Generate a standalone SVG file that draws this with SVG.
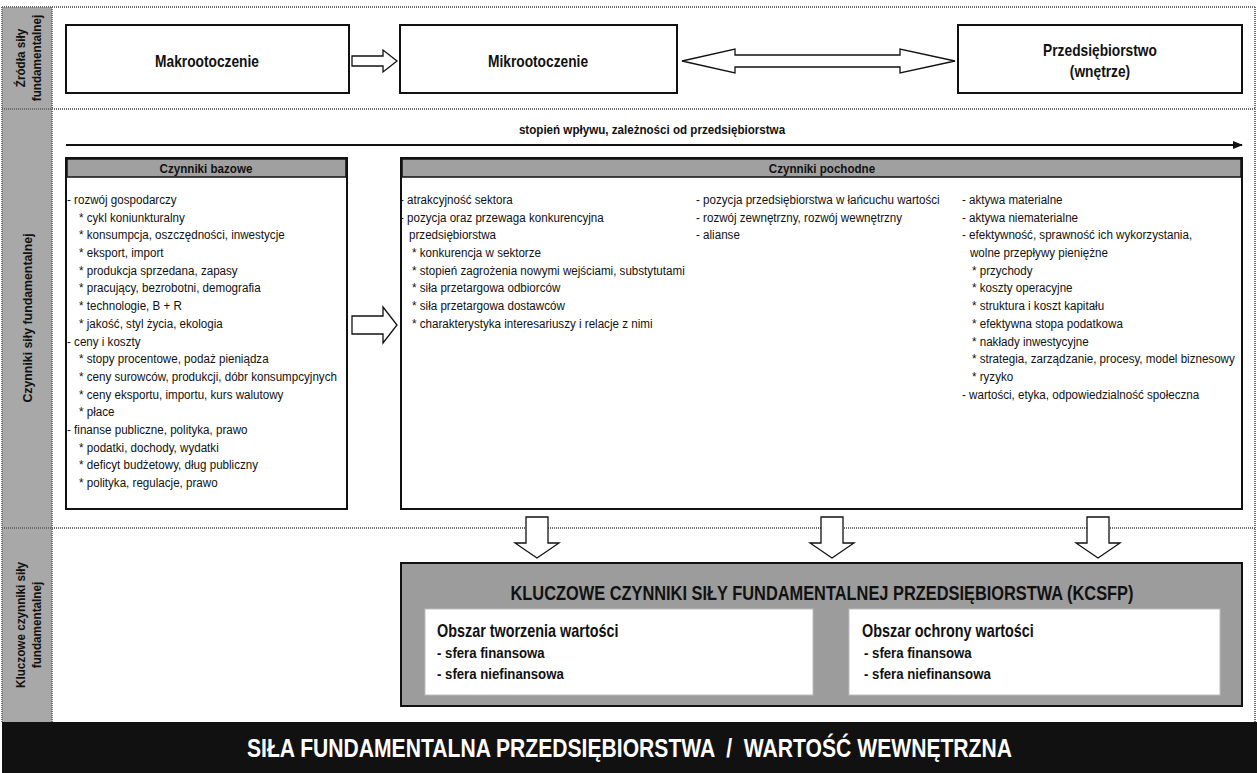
<svg xmlns="http://www.w3.org/2000/svg" width="1257" height="773" viewBox="0 0 1257 773">
<style>
.n{font-family:"Liberation Sans",Arial,sans-serif;}
.lst{font-size:13.5px;fill:#111;}
.hd{font-size:13.5px;font-weight:bold;fill:#111;}
.box{fill:#fff;stroke:#111;stroke-width:2;}
.bt{font-size:16px;font-weight:bold;fill:#111;}
.side{font-size:13px;font-weight:bold;fill:#111;}
.dot{stroke:#6e6e6e;stroke-width:2;stroke-dasharray:1 1;fill:none;}
.harrow{fill:#fff;stroke:#111;stroke-width:1.3;}
.kt{font-size:15px;font-weight:bold;fill:#111;}
.ko{font-size:18px;font-weight:bold;fill:#111;}
</style>
<defs>
<marker id="ah" markerWidth="10" markerHeight="8" refX="9" refY="4" orient="auto" markerUnits="userSpaceOnUse">
<path d="M0,0 L10,4 L0,8 Z" fill="#111"/>
</marker>
</defs>
<rect x="0" y="0" width="1257" height="773" fill="#fff"/>

<g id="sidebar">
<rect x="2" y="7" width="50" height="715" fill="#a8a8a8"/>
<line class="dot" x1="2" y1="7" x2="2" y2="722"/>
<line class="dot" x1="52" y1="7" x2="52" y2="722"/>
<line class="dot" x1="1255" y1="7" x2="1255" y2="722"/>
<line class="dot" x1="2" y1="7" x2="1255" y2="7"/>
<line class="dot" x1="2" y1="109" x2="1255" y2="109"/>
<line class="dot" x1="2" y1="528" x2="1255" y2="528"/>
<text class="n side" text-anchor="middle" transform="translate(25,58) rotate(-90) scale(0.9,1)">Źródła siły</text>
<text class="n side" text-anchor="middle" transform="translate(41,58) rotate(-90) scale(0.9,1)">fundamentalnej</text>
<text class="n side" text-anchor="middle" transform="translate(32,318) rotate(-90) scale(0.95,1)">Czynniki siły fundamentalnej</text>
<text class="n side" text-anchor="middle" transform="translate(25,625) rotate(-90) scale(0.9,1)">Kluczowe czynniki siły</text>
<text class="n side" text-anchor="middle" transform="translate(41,625) rotate(-90) scale(0.9,1)">fundamentalnej</text>
</g>

<g id="makro">
<rect class="box" x="66" y="25" width="283" height="68"/>
<text class="n bt" text-anchor="middle" transform="translate(207,67) scale(0.86,1)">Makrootoczenie</text>
</g>
<g id="mikro">
<rect class="box" x="400" y="25" width="277" height="68"/>
<text class="n bt" text-anchor="middle" transform="translate(538,67) scale(0.86,1)">Mikrootoczenie</text>
</g>
<g id="przedsiebiorstwo">
<rect class="box" x="958" y="25" width="284" height="68"/>
<text class="n bt" text-anchor="middle" transform="translate(1100,56) scale(0.86,1)">Przedsiębiorstwo</text>
<text class="n bt" text-anchor="middle" transform="translate(1100,77) scale(0.86,1)">(wnętrze)</text>
</g>

<g id="bazowe">
<rect class="box" x="66" y="158" width="281" height="351"/>
<rect x="67" y="159" width="279" height="18" fill="#a0a0a0" stroke="#111" stroke-width="1.5"/>
<text class="n hd" text-anchor="middle" transform="translate(206,173) scale(0.86,1)">Czynniki bazowe</text>
<g class="n lst" transform="translate(67,0) scale(0.86,1)">
<text x="0" y="204">- rozwój gospodarczy</text>
<text x="14" y="221.7">* cykl koniunkturalny</text>
<text x="14" y="239.4">* konsumpcja, oszczędności, inwestycje</text>
<text x="14" y="257.1">* eksport, import</text>
<text x="14" y="274.8">* produkcja sprzedana, zapasy</text>
<text x="14" y="292.5">* pracujący, bezrobotni, demografia</text>
<text x="14" y="310.2">* technologie, B + R</text>
<text x="14" y="327.9">* jakość, styl życia, ekologia</text>
<text x="0" y="345.6">- ceny i koszty</text>
<text x="14" y="363.3">* stopy procentowe, podaż pieniądza</text>
<text x="14" y="381">* ceny surowców, produkcji, dóbr konsumpcyjnych</text>
<text x="14" y="398.7">* ceny eksportu, importu, kurs walutowy</text>
<text x="14" y="416.4">* płace</text>
<text x="0" y="434.1">- finanse publiczne, polityka, prawo</text>
<text x="14" y="451.8">* podatki, dochody, wydatki</text>
<text x="14" y="469.5">* deficyt budżetowy, dług publiczny</text>
<text x="14" y="487.2">* polityka, regulacje, prawo</text>
</g>
</g>

<g id="pochodne">
<rect class="box" x="401" y="158" width="841" height="351"/>
<rect x="402" y="159" width="839" height="18" fill="#a0a0a0" stroke="#111" stroke-width="1.5"/>
<text class="n hd" text-anchor="middle" transform="translate(822,173) scale(0.86,1)">Czynniki pochodne</text>
<g class="n lst" transform="translate(400,0) scale(0.86,1)">
<text x="0" y="204">- atrakcyjność sektora</text>
<text x="0" y="221.7">- pozycja oraz przewaga konkurencyjna</text>
<text x="10.5" y="239.4">przedsiębiorstwa</text>
<text x="14" y="257.1">* konkurencja w sektorze</text>
<text x="14" y="274.8">* stopień zagrożenia nowymi wejściami, substytutami</text>
<text x="14" y="292.5">* siła przetargowa odbiorców</text>
<text x="14" y="310.2">* siła przetargowa dostawców</text>
<text x="14" y="327.9">* charakterystyka interesariuszy i relacje z nimi</text>
</g>
<g class="n lst" transform="translate(696,0) scale(0.86,1)">
<text x="0" y="204">- pozycja przedsiębiorstwa w łańcuchu wartości</text>
<text x="0" y="221.7">- rozwój zewnętrzny, rozwój wewnętrzny</text>
<text x="0" y="239.4">- alianse</text>
</g>
<g class="n lst" transform="translate(962,0) scale(0.86,1)">
<text x="0" y="204">- aktywa materialne</text>
<text x="0" y="221.7">- aktywa niematerialne</text>
<text x="0" y="239.4">- efektywność, sprawność ich wykorzystania,</text>
<text x="9.3" y="257.1">wolne przepływy pieniężne</text>
<text x="11.6" y="274.8">* przychody</text>
<text x="11.6" y="292.5">* koszty operacyjne</text>
<text x="11.6" y="310.2">* struktura i koszt kapitału</text>
<text x="11.6" y="327.9">* efektywna stopa podatkowa</text>
<text x="11.6" y="345.6">* nakłady inwestycyjne</text>
<text x="11.6" y="363.3">* strategia, zarządzanie, procesy, model biznesowy</text>
<text x="11.6" y="381">* ryzyko</text>
<text x="0" y="398.7">- wartości, etyka, odpowiedzialność społeczna</text>
</g>
</g>

<g id="kcsfp">
<rect x="401" y="563" width="841" height="143" fill="#9c9c9c" stroke="#111" stroke-width="2"/>
<text class="n" text-anchor="middle" transform="translate(822,600) scale(0.82,1)" font-size="20" font-weight="bold" fill="#111">KLUCZOWE CZYNNIKI SIŁY FUNDAMENTALNEJ PRZEDSIĘBIORSTWA (KCSFP)</text>
<rect x="425" y="609" width="388" height="86" fill="#fff" stroke="#bbb" stroke-width="1"/>
<rect x="849" y="609" width="371" height="86" fill="#fff" stroke="#bbb" stroke-width="1"/>
<g class="n" transform="translate(437,0) scale(0.8,1)">
<text class="ko" x="0" y="637">Obszar tworzenia wartości</text>
</g>
<g class="n" transform="translate(437,0) scale(0.88,1)">
<text class="kt" x="0" y="658">- sfera finansowa</text>
<text class="kt" x="0" y="679">- sfera niefinansowa</text>
</g>
<g class="n" transform="translate(862,0) scale(0.8,1)">
<text class="ko" x="0" y="637">Obszar ochrony wartości</text>
</g>
<g class="n" transform="translate(864,0) scale(0.88,1)">
<text class="kt" x="0" y="658">- sfera finansowa</text>
<text class="kt" x="0" y="679">- sfera niefinansowa</text>
</g>
</g>

<g id="bottom-bar">
<rect x="2" y="722" width="1255" height="51" fill="#111"/>
<text class="n" x="247" y="757" font-size="26" fill="#fff" font-weight="bold" textLength="765" lengthAdjust="spacingAndGlyphs" xml:space="preserve">SIŁA FUNDAMENTALNA PRZEDSIĘBIORSTWA  /  WARTOŚĆ WEWNĘTRZNA</text>
</g>

<g id="connectors">
<text class="n" text-anchor="middle" transform="translate(652,134) scale(0.86,1)" font-size="13.5" font-weight="bold" fill="#111">stopień wpływu, zależności od przedsiębiorstwa</text>
<line x1="66" y1="145" x2="1242" y2="145" stroke="#111" stroke-width="2" marker-end="url(#ah)"/>
<path class="harrow" d="M352,56 L383,56 L383,50 L397,61 L383,72 L383,66 L352,66 Z"/>
<path class="harrow" d="M682,61 L735,49 L735,55 L900,55 L900,49 L955,61 L900,73 L900,67 L735,67 L735,73 Z"/>
<path class="harrow" d="M352,316 L383,316 L383,307 L397,325 L383,343 L383,334 L352,334 Z"/>
<path class="harrow" d="M526,517 L548,517 L548,543 L559,543 L537,558 L515,543 L526,543 Z"/>
<path class="harrow" d="M821,517 L843,517 L843,543 L854,543 L832,558 L810,543 L821,543 Z"/>
<path class="harrow" d="M1087,517 L1109,517 L1109,543 L1120,543 L1098,558 L1076,543 L1087,543 Z"/>
</g>
</svg>
